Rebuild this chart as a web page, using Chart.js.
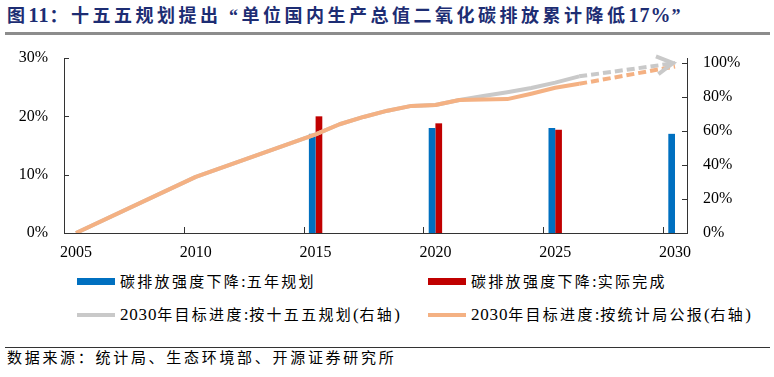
<!DOCTYPE html>
<html>
<head>
<meta charset="utf-8">
<script src="https://cdn.jsdelivr.net/npm/chart.js@4.4.1/dist/chart.umd.min.js"></script>
<style>
body{margin:0;width:774px;height:377px;position:relative;background:#fff;overflow:hidden;font-family:"Liberation Serif","Noto Sans CJK SC",serif;}
#title{position:absolute;left:7px;top:3px;font-size:18px;font-weight:bold;color:#1d2d73;letter-spacing:3.5px;white-space:nowrap;line-height:24px;}
#title .asc{font-size:20px;letter-spacing:1px;}
#title .q{display:inline-block;width:20px;}
#title .q.l{text-align:right;}
#rule1{position:absolute;left:5px;width:765px;top:32px;height:3px;background:#8c8c8c;}
#wrap{position:absolute;left:0;top:0;width:774px;height:262px;}
.lg{position:absolute;font-size:15px;letter-spacing:2.3px;white-space:nowrap;line-height:20px;color:#000;}
.lg .asc{letter-spacing:0.8px;font-size:17px;}
.sw{position:absolute;}
#rule2{position:absolute;left:5px;width:765px;top:347px;height:1px;background:#333;}
#src{position:absolute;left:7px;top:348px;font-size:15px;letter-spacing:2.7px;line-height:21px;white-space:nowrap;color:#000;}
</style>
</head>
<body>
<div id="title"></div>
<div id="rule1"></div>
<div id="wrap"><canvas id="myChart" width="774" height="262"></canvas></div>
<div id="legend"></div>
<div id="rule2"></div>
<div id="src">数据来源：统计局、生态环境部、开源证券研究所</div>
<script>
// x轴年份
var years = ['2005','2006','2007','2008','2009','2010','2011','2012','2013','2014',
  '2015','2016','2017','2018','2019','2020','2021','2022','2023','2024',
  '2025','2026','2027','2028','2029','2030'];
// 碳排放强度下降:五年规划 (%)
var planCut = [null,null,null,null,null,null,null,null,null,null,
  17,null,null,null,null,18,null,null,null,null,18,null,null,null,null,17];
// 碳排放强度下降:实际完成 (%)
var actualCut = [null,null,null,null,null,null,null,null,null,null,
  20,null,null,null,null,18.8,null,null,null,null,17.7,null,null,null,null,null];
// 2030年目标进度:按十五五规划 (右轴, %)
var planProgress = [0,null,null,null,null,33,null,null,null,null,
  58,64,68.3,72,74.8,75.3,78.3,80.6,82.8,85.3,88.5,92.2,null,null,null,100];
// 2030年目标进度:按统计局公报 (右轴, %)
var statsProgress = [0,null,null,null,null,33,null,null,null,null,
  58,64,68.3,72,74.8,75.3,78.3,78.6,78.8,82,85.5,87.8,null,null,null,98];
var leftTicks = [0,10,20,30];
var rightTicks = [0,20,40,60,80,100];

var titleText = '图11：十五五规划提出“单位国内生产总值二氧化碳排放累计降低17%”';
var labels = ['碳排放强度下降:五年规划','碳排放强度下降:实际完成',
  '2030年目标进度:按十五五规划(右轴)','2030年目标进度:按统计局公报(右轴)'];
var colors = ['#0070C0','#C00000','#C9C9C9','#F4B183'];
var dashFrom = 21; // 2026 之后虚线

var tickFont = {family:'Liberation Serif', size:16};

// 英文数字不加字距, 引号按全角
function richText(el, s){
  s.split(/([\x20-\x7e%]+|[“”])/).forEach(function(part){
    if (!part) return;
    var sp;
    if (part === '“' || part === '”'){
      sp = document.createElement('span');
      sp.className = part === '“' ? 'q l' : 'q';
      sp.textContent = part;
      el.appendChild(sp);
    } else if (/^[\x20-\x7e%]+$/.test(part)){
      sp = document.createElement('span');
      sp.className = 'asc';
      sp.textContent = part;
      el.appendChild(sp);
    } else {
      el.appendChild(document.createTextNode(part));
    }
  });
}

var innerTicks = {
  id:'innerTicks',
  afterDraw: function(chart){
    var ctx = chart.ctx, a = chart.chartArea;
    var sx = chart.scales.x, yl = chart.scales.y, yr = chart.scales.y1;
    ctx.save();
    ctx.strokeStyle = '#333';
    ctx.lineWidth = 1;
    ctx.beginPath();
    leftTicks.forEach(function(v){
      var p = Math.round(yl.getPixelForValue(v)) + 0.5;
      ctx.moveTo(a.left, p); ctx.lineTo(a.left + 5, p);
    });
    rightTicks.forEach(function(v){
      var p = Math.round(yr.getPixelForValue(v)) + 0.5;
      ctx.moveTo(a.right, p); ctx.lineTo(a.right - 5, p);
    });
    for (var i = 5; i < years.length; i += 5){
      var p = Math.round((sx.getPixelForValue(i-1) + sx.getPixelForValue(i)) / 2) + 0.5;
      ctx.moveTo(p, a.bottom); ctx.lineTo(p, a.bottom - 6);
    }
    ctx.stroke();
    ctx.restore();
  }
};

// 灰线末端箭头
var arrowHead = {
  id:'arrowHead',
  afterDatasetsDraw: function(chart){
    var pts = chart.getDatasetMeta(2).data;
    var end = pts[years.length-1], prev = pts[dashFrom];
    var ang = Math.atan2(end.y - prev.y, end.x - prev.x);
    var ctx = chart.ctx;
    ctx.save();
    ctx.translate(end.x - 2, end.y);
    ctx.rotate(ang);
    ctx.strokeStyle = colors[2];
    ctx.lineWidth = 4;
    ctx.lineJoin = 'miter';
    ctx.beginPath();
    ctx.moveTo(-16, -9);
    ctx.lineTo(0, 0);
    ctx.lineTo(-16, 9);
    ctx.stroke();
    ctx.restore();
  }
};

function lineSet(i, data, order){
  return {
    type:'line', label:labels[i], data:data, yAxisID:'y1', order:order,
    borderColor:colors[i], backgroundColor:colors[i], borderWidth:4,
    pointRadius:0, tension:0, spanGaps:true, fill:false,
    borderJoinStyle:'round',
    segment:{ borderDash: function(c){ return c.p0DataIndex >= dashFrom ? [8,4] : undefined; } }
  };
}

var canvas = document.getElementById('myChart');
var myChart = new Chart(canvas, {
  type:'bar',
  data:{
    labels:years,
    datasets:[
      {label:labels[0], data:planCut, backgroundColor:colors[0], yAxisID:'y', order:3,
        categoryPercentage:0.56, barPercentage:1},
      {label:labels[1], data:actualCut, backgroundColor:colors[1], yAxisID:'y', order:3,
        categoryPercentage:0.56, barPercentage:1},
      lineSet(2, planProgress, 2),
      lineSet(3, statsProgress, 1)
    ]
  },
  options:{
    responsive:false, animation:false, devicePixelRatio:1,
    layout:{padding:{top:58, left:0, right:0, bottom:0}},
    plugins:{legend:{display:false}, tooltip:{enabled:false}},
    scales:{
      x:{
        grid:{display:false, drawTicks:false, offset:true},
        border:{color:'#333', width:1},
        ticks:{autoSkip:false, maxRotation:0, padding:10, color:'#000', font:tickFont,
          callback:function(v, i){ return i % 5 === 0 ? years[i] : ''; }},
        afterFit:function(s){ s.height = 29; }
      },
      y:{
        position:'left', min:0, max:30,
        grid:{display:false, drawTicks:false},
        border:{color:'#333', width:1},
        afterBuildTicks:function(s){ s.ticks = leftTicks.map(function(v){ return {value:v}; }); },
        ticks:{padding:16, color:'#000', font:tickFont, callback:function(v){ return v + '%'; }},
        afterFit:function(s){ s.width = 64; }
      },
      y1:{
        position:'right', min:0, max:103,
        grid:{display:false, drawTicks:false},
        border:{color:'#333', width:1},
        afterBuildTicks:function(s){ s.ticks = rightTicks.map(function(v){ return {value:v}; }); },
        ticks:{padding:16, color:'#000', font:tickFont, callback:function(v){ return v + '%'; }},
        afterFit:function(s){ s.width = 87; }
      }
    }
  },
  plugins:[innerTicks, arrowHead]
});

richText(document.getElementById('title'), titleText);

// 图例 2x2
var lg = document.getElementById('legend');
var pos = [[77,282,'bar'],[428,282,'bar'],[77,315,'line'],[428,315,'line']];
pos.forEach(function(p, i){
  var sw = document.createElement('div');
  sw.className = 'sw';
  sw.style.left = p[0] + 'px';
  sw.style.width = '38px';
  sw.style.background = colors[i];
  if (p[2] === 'bar'){ sw.style.top = (p[1]-4) + 'px'; sw.style.height = '7px'; }
  else { sw.style.top = (p[1]-2) + 'px'; sw.style.height = '4px'; }
  lg.appendChild(sw);
  var t = document.createElement('div');
  t.className = 'lg';
  t.style.left = (p[0] + 43) + 'px';
  t.style.top = (p[1] - 10) + 'px';
  richText(t, labels[i]);
  lg.appendChild(t);
});
</script>
</body>
</html>
